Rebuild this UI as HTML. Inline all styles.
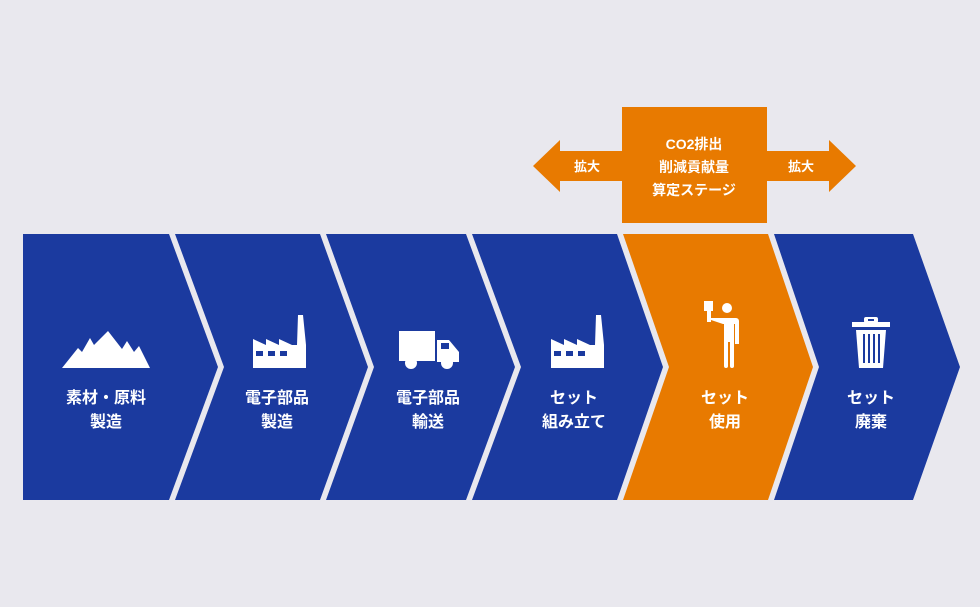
<!DOCTYPE html>
<html><head><meta charset="utf-8"><style>
html,body{margin:0;padding:0;background:#e9e8ee;}
svg{display:block}
text{font-family:"Liberation Sans","Noto Sans CJK JP",sans-serif;font-weight:bold;fill:#fff;text-anchor:middle}
</style></head><body>
<svg width="980" height="607" viewBox="0 0 980 607" xmlns="http://www.w3.org/2000/svg">
<rect width="980" height="607" fill="#e9e8ee"/>
<!-- top stage -->
<polygon points="533,166 560,140 560,151 622,151 622,181 560,181 560,192" fill="#e87a00"/>
<polygon points="856,166 829,140 829,151 767,151 767,181 829,181 829,192" fill="#e87a00"/>
<rect x="622" y="107" width="145" height="116" fill="#e87a00"/>
<text x="587" y="171" font-size="13">拡大</text>
<text x="801" y="171" font-size="13">拡大</text>
<text x="694" y="149" font-size="14">CO2排出</text>
<text x="694" y="172" font-size="14">削減貢献量</text>
<text x="694" y="195" font-size="14">算定ステージ</text>
<!-- chevrons -->
<polygon points="23,234 169,234 218,367 169,500 23,500" fill="#1b3a9f"/>
<polygon points="175,234 320,234 368,367 320,500 175,500 224,367" fill="#1b3a9f"/>
<polygon points="326,234 466,234 515,367 466,500 326,500 374,367" fill="#1b3a9f"/>
<polygon points="472,234 617,234 663,367 617,500 472,500 521,367" fill="#1b3a9f"/>
<polygon points="623,234 768,234 813,367 768,500 623,500 669,367" fill="#e87a00"/>
<polygon points="774,234 913,234 960,367 913,500 774,500 819,367" fill="#1b3a9f"/>
<!-- mountains -->
<polygon points="62,368 78,348 82,352 90,338 94,345 108,331 122,349 127,341 134,352 139,346 150,368" fill="#fff"/>
<!-- factory 1 -->
<g fill="#fff">
<polygon points="253,368 253,339 266,345 266,339 279,345 279,339 292,345 297,345 298,315 303,315 306,345 306,368"/>
</g>
<g fill="#1b3a9f"><rect x="256" y="351" width="7" height="5"/><rect x="268" y="351" width="7" height="5"/><rect x="280" y="351" width="7" height="5"/></g>
<!-- truck -->
<g fill="#fff">
<rect x="399" y="331" width="36" height="30"/>
<path d="M437,340 h12 l10,12 v10 h-22z"/>
<circle cx="411" cy="363" r="6"/><circle cx="447" cy="363" r="6"/>
</g>
<rect x="441" y="343" width="8" height="6" fill="#1b3a9f"/>
<g fill="#1b3a9f" opacity="0"><rect/></g>
<!-- factory 2 -->
<polygon points="551,368 551,339 564,345 564,339 577,345 577,339 590,345 595,345 596,315 601,315 604,345 604,368" fill="#fff"/>
<g fill="#1b3a9f"><rect x="554" y="351" width="7" height="5"/><rect x="566" y="351" width="7" height="5"/><rect x="578" y="351" width="7" height="5"/></g>
<!-- person -->
<g fill="#fff">
<rect x="704" y="301" width="9" height="10"/>
<rect x="707" y="310" width="4" height="12"/>
<circle cx="727" cy="308" r="5"/>
<path d="M711,318 h25 a3,3 0 0 1 3,3 v23 h-4 v-20 h-1 v42 a2,2 0 0 1 -4,0 v-24 h-2 v24 a2,2 0 0 1 -4,0 v-42 h-1 l-12,-4z"/>
</g>
<!-- trash -->
<g fill="#fff">
<rect x="852" y="322" width="38" height="5"/>
<rect x="864" y="317" width="14" height="6" rx="2"/>
<path d="M856,330 h30 l-3,38 h-24z"/>
</g>
<g fill="#1b3a9f"><rect x="863" y="334" width="2" height="29"/><rect x="868" y="334" width="2" height="29"/><rect x="873" y="334" width="2" height="29"/><rect x="878" y="334" width="2" height="29"/></g>
<rect x="868" y="319" width="6" height="2" fill="#1b3a9f"/>
<!-- labels -->
<g font-size="16">
<text x="106" y="403">素材・原料</text><text x="106" y="427">製造</text>
<text x="277" y="403">電子部品</text><text x="277" y="427">製造</text>
<text x="428" y="403">電子部品</text><text x="428" y="427">輸送</text>
<text x="574" y="403">セット</text><text x="574" y="427">組み立て</text>
<text x="725" y="403">セット</text><text x="725" y="427">使用</text>
<text x="871" y="403">セット</text><text x="871" y="427">廃棄</text>
</g>
</svg>
</body></html>
